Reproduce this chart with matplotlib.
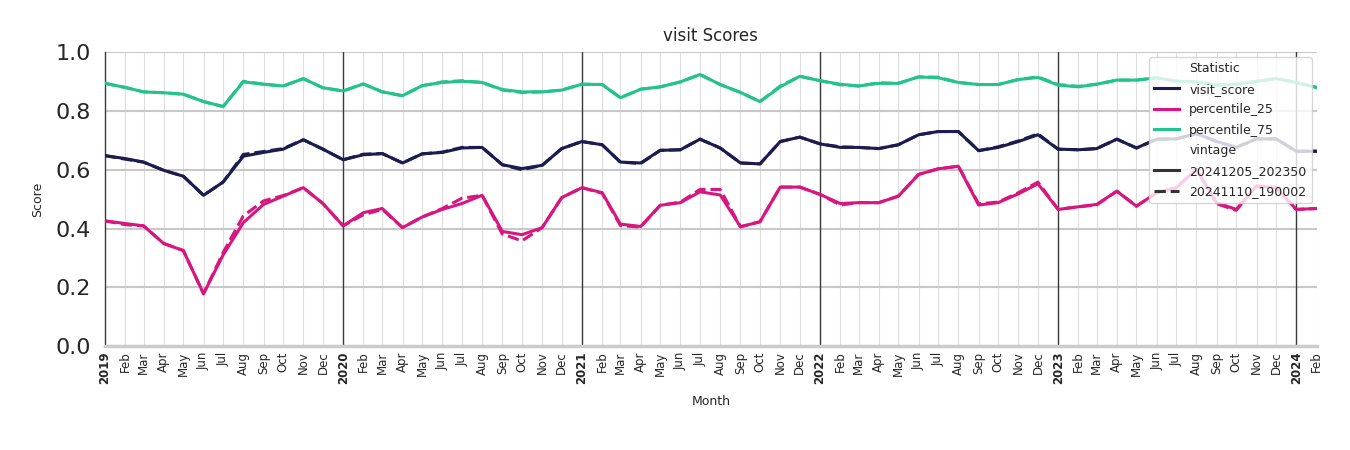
import numpy as np
import pandas as pd
import matplotlib
matplotlib.use('Agg')
import matplotlib.pyplot as plt
from matplotlib.lines import Line2D

# monthly values, Jan 2019 .. Feb 2024
months = pd.date_range('2019-01-01', '2024-02-01', freq='MS')

visit_score_new = [0.648, 0.638, 0.626, 0.598, 0.578, 0.513, 0.558, 0.646, 0.659, 0.670, 0.702, 0.670,
                   0.634, 0.651, 0.655, 0.623, 0.654, 0.659, 0.674, 0.676, 0.617, 0.604, 0.615, 0.672,
                   0.696, 0.685, 0.626, 0.623, 0.666, 0.668, 0.704, 0.674, 0.623, 0.620, 0.696, 0.711,
                   0.688, 0.676, 0.676, 0.672, 0.685, 0.719, 0.730, 0.730, 0.665, 0.676, 0.696, 0.719,
                   0.670, 0.668, 0.672, 0.704, 0.674, 0.704, 0.705, 0.723, 0.696, 0.676, 0.705, 0.705,
                   0.663, 0.663]
visit_score_old = [0.648, 0.636, 0.626, 0.598, 0.578, 0.513, 0.558, 0.652, 0.662, 0.672, 0.702, 0.670,
                   0.634, 0.653, 0.655, 0.623, 0.654, 0.660, 0.676, 0.676, 0.617, 0.600, 0.615, 0.672,
                   0.696, 0.685, 0.626, 0.621, 0.666, 0.668, 0.704, 0.674, 0.623, 0.620, 0.696, 0.711,
                   0.688, 0.678, 0.676, 0.672, 0.685, 0.719, 0.730, 0.730, 0.665, 0.678, 0.698, 0.722,
                   0.670, 0.668, 0.672, 0.704, 0.674, 0.704, 0.705, 0.723, 0.696, 0.676, 0.705, 0.705,
                   0.663, 0.663]

p25_new = [0.426, 0.417, 0.409, 0.349, 0.325, 0.178, 0.310, 0.420, 0.482, 0.510, 0.539, 0.485,
           0.409, 0.454, 0.468, 0.403, 0.439, 0.465, 0.485, 0.513, 0.390, 0.379, 0.403, 0.505,
           0.539, 0.522, 0.415, 0.407, 0.479, 0.488, 0.525, 0.514, 0.406, 0.423, 0.541, 0.541,
           0.516, 0.485, 0.488, 0.488, 0.510, 0.584, 0.603, 0.612, 0.480, 0.488, 0.518, 0.552,
           0.465, 0.474, 0.482, 0.527, 0.476, 0.522, 0.539, 0.601, 0.488, 0.465, 0.545, 0.539,
           0.465, 0.468]
p25_old = [0.426, 0.413, 0.409, 0.349, 0.325, 0.178, 0.318, 0.443, 0.494, 0.512, 0.539, 0.485,
           0.409, 0.447, 0.465, 0.403, 0.439, 0.468, 0.503, 0.513, 0.381, 0.358, 0.403, 0.505,
           0.539, 0.520, 0.410, 0.405, 0.479, 0.490, 0.533, 0.533, 0.406, 0.423, 0.541, 0.541,
           0.516, 0.480, 0.488, 0.488, 0.510, 0.584, 0.603, 0.612, 0.484, 0.490, 0.522, 0.558,
           0.465, 0.474, 0.480, 0.527, 0.476, 0.522, 0.539, 0.601, 0.484, 0.462, 0.545, 0.539,
           0.465, 0.468]

p75_new = [0.894, 0.880, 0.865, 0.862, 0.857, 0.832, 0.815, 0.899, 0.891, 0.885, 0.910, 0.879,
           0.868, 0.892, 0.865, 0.852, 0.886, 0.897, 0.901, 0.897, 0.873, 0.865, 0.865, 0.871,
           0.891, 0.890, 0.845, 0.874, 0.882, 0.899, 0.924, 0.890, 0.863, 0.832, 0.882, 0.918,
           0.903, 0.891, 0.885, 0.894, 0.894, 0.916, 0.913, 0.897, 0.890, 0.890, 0.907, 0.914,
           0.888, 0.882, 0.891, 0.905, 0.905, 0.913, 0.901, 0.899, 0.888, 0.891, 0.901, 0.910,
           0.897, 0.880]
p75_old = [0.894, 0.880, 0.865, 0.862, 0.857, 0.832, 0.815, 0.901, 0.891, 0.885, 0.910, 0.879,
           0.868, 0.892, 0.865, 0.852, 0.886, 0.899, 0.903, 0.897, 0.871, 0.863, 0.865, 0.871,
           0.891, 0.890, 0.845, 0.874, 0.882, 0.899, 0.924, 0.890, 0.863, 0.832, 0.885, 0.918,
           0.903, 0.889, 0.885, 0.896, 0.894, 0.916, 0.915, 0.897, 0.890, 0.890, 0.907, 0.916,
           0.890, 0.884, 0.891, 0.905, 0.905, 0.913, 0.901, 0.899, 0.888, 0.891, 0.901, 0.910,
           0.897, 0.880]

stat_names = ['visit_score', 'percentile_25', 'percentile_75']
stat_colors = ['#1c1c4e', '#d8167f', '#24c28f']
vintages = ['20241205_202350', '20241110_190002']

series = {
    ('visit_score', vintages[0]): visit_score_new,
    ('visit_score', vintages[1]): visit_score_old,
    ('percentile_25', vintages[0]): p25_new,
    ('percentile_25', vintages[1]): p25_old,
    ('percentile_75', vintages[0]): p75_new,
    ('percentile_75', vintages[1]): p75_old,
}

fig = plt.figure(figsize=(13.5, 4.5), dpi=100)
ax = fig.add_axes([0.0778, 0.231, 0.8974, 0.653])

for name, col in zip(stat_names, stat_colors):
    ax.plot(months, series[(name, vintages[0])], color=col, lw=2.2, ls='-', zorder=3)
    ax.plot(months, series[(name, vintages[1])], color=col, lw=2.2, ls=(0, (3.7, 1.6)), zorder=3)

ax.set_xlim(months[0], months[-1])
ax.set_ylim(0, 1.0)
ax.set_yticks(np.arange(0, 1.01, 0.2))
ax.set_yticklabels(['%.1f' % v for v in np.arange(0, 1.01, 0.2)], fontsize=16, color='#262626')
ax.tick_params(axis='y', length=0, pad=10)

ax.set_xticks(months)
labels = []
for d in months:
    labels.append(str(d.year) if d.month == 1 else d.strftime('%b'))
ax.set_xticklabels(labels, rotation=90, fontsize=8.5, color='#262626')
for lab, d in zip(ax.get_xticklabels(), months):
    if d.month == 1:
        lab.set_fontweight('bold')
ax.tick_params(axis='x', length=0, pad=4)

ax.grid(axis='y', color='#c8c8c8', lw=1.5, zorder=0)
ax.grid(axis='x', color='#dedede', lw=0.8, zorder=0)
for d in months:
    if d.month == 1 and d != months[0]:
        ax.axvline(d, color='#3a3a3a', lw=1.0, zorder=2)

for side in ['top', 'right']:
    ax.spines[side].set_visible(False)
ax.spines['left'].set_color('#3a3a3a')
ax.spines['left'].set_linewidth(1.0)
ax.spines['bottom'].set_color('#cccccc')
ax.spines['bottom'].set_linewidth(2.5)

ax.set_title('visit Scores', fontsize=12, color='#262626', pad=8)
ax.set_xlabel('Month', fontsize=9, color='#262626', labelpad=8)
ax.set_ylabel('Score', fontsize=9, color='#262626', labelpad=8)

blank = Line2D([], [], color='none')
handles = [blank]
for col in stat_colors:
    handles.append(Line2D([], [], color=col, lw=2.2))
handles.append(blank)
handles.append(Line2D([], [], color='#333333', lw=2.2))
handles.append(Line2D([], [], color='#333333', lw=2.2, ls=(0, (3.7, 1.6))))
leg_labels = ['Statistic'] + stat_names + ['vintage'] + vintages
leg = ax.legend(handles, leg_labels, loc='upper right', fontsize=9, framealpha=0.8,
                edgecolor='#cccccc', handlelength=2.0, labelspacing=0.6, borderaxespad=0.4)
for txt in leg.get_texts():
    txt.set_color('#262626')

fig.savefig('out.png', dpi=100)
